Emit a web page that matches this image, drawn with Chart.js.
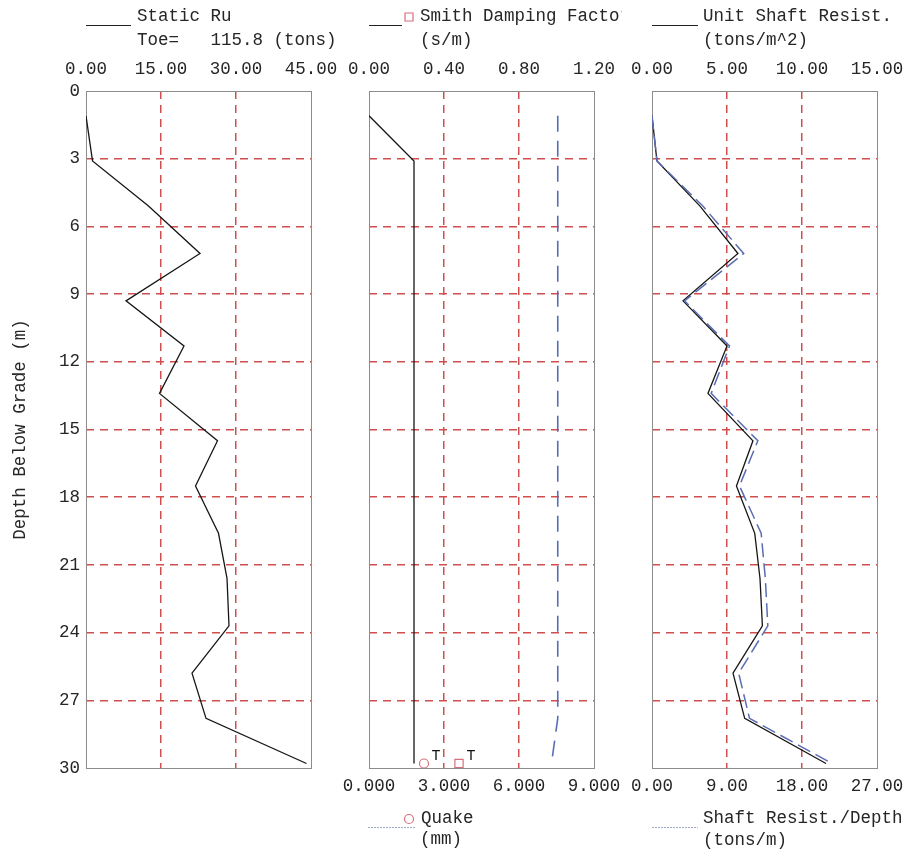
<!DOCTYPE html>
<html>
<head>
<meta charset="utf-8">
<script src="https://cdn.jsdelivr.net/npm/chart.js@4"></script>
<style>
  html, body { margin: 0; padding: 0; background: #ffffff; }
  #wrap { position: relative; width: 912px; height: 854px; }
  #wrap canvas { position: absolute; left: 0; top: 0; }
</style>
</head>
<body>
<div id="wrap">
  <canvas id="ruChart" width="912" height="854"></canvas>
  <canvas id="dampChart" width="912" height="854"></canvas>
  <canvas id="shaftChart" width="912" height="854"></canvas>
</div>
<script>
// ---- Pile profile data (depth below grade, m) ----
const depth = [1.1, 3.1, 5.1, 7.2, 9.3, 11.3, 13.4, 15.5, 17.5, 19.6, 21.6, 23.7, 25.8, 27.8, 29.8];

// Static resistance per segment (tons)
const staticRu = [0, 1.3, 12.5, 22.8, 8.0, 19.6, 14.7, 26.3, 21.9, 26.5, 28.2, 28.6, 21.2, 24.0, 44.1];

// Smith damping factor (s/m) and quake (mm) along the shaft
const smithDamping = [0, 0.24, 0.24, 0.24, 0.24, 0.24, 0.24, 0.24, 0.24, 0.24, 0.24, 0.24, 0.24, 0.24, 0.24];
const quake = [7.55, 7.55, 7.55, 7.55, 7.55, 7.55, 7.55, 7.55, 7.55, 7.55, 7.55, 7.55, 7.55, 7.55, 7.3];

// Unit shaft resistance (tons/m^2) and shaft resistance per depth (tons/m)
const unitShaftResist = [0, 0.33, 3.2, 5.73, 2.07, 5.0, 3.73, 6.73, 5.63, 6.85, 7.2, 7.36, 5.4, 6.18, 11.6];
const shaftResistPerDepth = [0, 0.6, 6.1, 11.0, 3.9, 9.3, 7.1, 12.7, 10.5, 13.1, 13.6, 13.9, 10.4, 11.7, 21.6];

// Toe values
const toeDepth = 29.8;
const toeRu = 115.8;
const smithToe = 0.48;
const quakeToe = 2.2;

// Axis tick values
const depthTicks = [0, 3, 6, 9, 12, 15, 18, 21, 24, 27, 30];
const ruTicks = [0, 15, 30, 45];
const smithTicks = [0, 0.4, 0.8, 1.2];
const quakeTicks = [0, 3, 6, 9];
const unitTicks = [0, 5, 10, 15];
const perDepthTicks = [0, 9, 18, 27];

// ---- Styling ----
const MONO = '"Liberation Mono", "Courier New", monospace';
const FONT = { family: MONO, size: 17.5 };
const TEXT = '#262626';
const GRID_RED = 'rgb(208, 78, 78)';
const GRID_DASH = [8, 6];
const FRAME = '#8c8c8c';
const BLUE = '#5a6db3';
const BLACK = '#161616';
const MARK = '#d7707c';

Chart.defaults.font.family = MONO;
Chart.defaults.animation = false;

const innerGrid = (c) =>
  (c.index === 0 || c.index === c.scale.ticks.length - 1) ? 'rgba(255,255,255,0)' : GRID_RED;

function zeroPad(s) { s.paddingLeft = 0; s.paddingRight = 0; s.paddingTop = 0; s.paddingBottom = 0; }

function xAxis(position, ticks, decimals, showGrid, height, pad) {
  return {
    type: 'linear', axis: 'x', position,
    min: ticks[0], max: ticks[ticks.length - 1],
    afterBuildTicks: (s) => { s.ticks = ticks.map(v => ({ value: v })); },
    afterFit: (s) => { s.height = height; zeroPad(s); },
    ticks: {
      callback: (v) => Number(v).toFixed(decimals),
      font: FONT, color: TEXT, padding: pad, maxRotation: 0, autoSkip: false
    },
    grid: { display: showGrid, drawTicks: false, color: innerGrid, lineWidth: 1.5 },
    border: { display: false, dash: GRID_DASH }
  };
}

function yAxis(showLabels, width, withTitle) {
  return {
    type: 'linear', axis: 'y', position: 'left', reverse: true,
    min: depthTicks[0], max: depthTicks[depthTicks.length - 1],
    afterBuildTicks: (s) => { s.ticks = depthTicks.map(v => ({ value: v })); },
    afterFit: (s) => { s.width = width; zeroPad(s); },
    ticks: { display: showLabels, font: FONT, color: TEXT, padding: 6, autoSkip: false },
    grid: { drawTicks: false, color: innerGrid, lineWidth: 1.5 },
    border: { display: false, dash: GRID_DASH },
    title: withTitle
      ? { display: true, text: 'Depth Below Grade (m)', font: FONT, color: TEXT, padding: { top: 10, bottom: 0 } }
      : { display: false }
  };
}

function profile(values) {
  return depth.map((d, i) => ({ x: values[i], y: d }));
}

// Plot frame around the chart area
const framePlugin = {
  id: 'frame',
  beforeDatasetsDraw(chart) {
    const a = chart.chartArea, ctx = chart.ctx;
    ctx.save();
    ctx.strokeStyle = FRAME;
    ctx.lineWidth = 1;
    ctx.strokeRect(Math.round(a.left) + 0.5, Math.round(a.top) + 0.5,
      Math.round(a.right - a.left), Math.round(a.bottom - a.top));
    ctx.restore();
  }
};

// Header / footer captions with their key lines and symbols
const captionPlugin = {
  id: 'caption',
  afterDraw(chart, args, opts) {
    const ctx = chart.ctx;
    ctx.save();
    (opts.lines || []).forEach(l => {
      ctx.beginPath();
      ctx.strokeStyle = l.color;
      ctx.lineWidth = 1;
      ctx.setLineDash(l.dash || []);
      ctx.moveTo(l.x1, l.y + 0.5);
      ctx.lineTo(l.x2, l.y + 0.5);
      ctx.stroke();
    });
    ctx.setLineDash([]);
    (opts.symbols || []).forEach(m => {
      ctx.strokeStyle = MARK;
      ctx.lineWidth = 1.2;
      ctx.beginPath();
      if (m.type === 'rect') ctx.rect(m.x - m.size / 2, m.y - m.size / 2, m.size, m.size);
      else ctx.arc(m.x, m.y, m.size / 2, 0, Math.PI * 2);
      ctx.stroke();
    });
    ctx.font = '17.5px ' + MONO;
    ctx.fillStyle = TEXT;
    ctx.textBaseline = 'middle';
    ctx.textAlign = 'left';
    (opts.texts || []).forEach(t => {
      ctx.save();
      if (t.clip) { ctx.beginPath(); ctx.rect(0, 0, t.clip, 854); ctx.clip(); }
      ctx.fillText(t.text, t.x, t.y);
      ctx.restore();
    });
    ctx.restore();
  }
};

// "T" tags beside the toe symbols, placed from the plotted points
const toeTagPlugin = {
  id: 'toeTag',
  afterDatasetsDraw(chart, args, opts) {
    if (!opts.datasets) return;
    const ctx = chart.ctx;
    ctx.save();
    ctx.font = '15px ' + MONO;
    ctx.fillStyle = '#111';
    ctx.textAlign = 'center';
    ctx.textBaseline = 'middle';
    opts.datasets.forEach(i => {
      const pt = chart.getDatasetMeta(i).data[0];
      if (pt) ctx.fillText('T', pt.x + 12, pt.y - 7);
    });
    ctx.restore();
  }
};

const basePlugins = [framePlugin, captionPlugin, toeTagPlugin];

function baseOptions(padding, scales, caption, toeTag) {
  return {
    responsive: false,
    devicePixelRatio: 1,
    animation: false,
    events: [],
    layout: { padding },
    scales,
    plugins: {
      legend: { display: false },
      tooltip: { enabled: false },
      caption,
      toeTag: toeTag || {}
    }
  };
}

// ---- Panel 1: static resistance ----
new Chart(document.getElementById('ruChart'), {
  type: 'scatter',
  data: {
    datasets: [{
      data: profile(staticRu), xAxisID: 'xTop', yAxisID: 'y',
      showLine: true, borderColor: BLACK, borderWidth: 1.3, pointRadius: 0
    }]
  },
  options: baseOptions(
    { left: 0, top: 0, right: 601, bottom: 86 },
    { xTop: xAxis('top', ruTicks, 2, true, 91, 11), y: yAxis(true, 86, true) },
    {
      lines: [{ x1: 86, x2: 131, y: 25, color: '#222' }],
      texts: [
        { text: 'Static Ru', x: 137, y: 16 },
        { text: 'Toe=   ' + toeRu.toFixed(1) + ' (tons)', x: 137, y: 40 }
      ]
    }
  ),
  plugins: basePlugins
});

// ---- Panel 2: Smith damping (top) and quake (bottom) ----
new Chart(document.getElementById('dampChart'), {
  type: 'scatter',
  data: {
    datasets: [
      {
        label: 'Smith Damping', data: profile(smithDamping), xAxisID: 'xTop', yAxisID: 'y',
        showLine: true, borderColor: BLACK, borderWidth: 1.3, pointRadius: 0
      },
      {
        label: 'Quake', data: profile(quake), xAxisID: 'xBot', yAxisID: 'y',
        showLine: true, borderColor: BLUE, borderWidth: 1.6, borderDash: [16, 9], pointRadius: 0
      },
      {
        label: 'Smith Toe', data: [{ x: smithToe, y: toeDepth }], xAxisID: 'xTop', yAxisID: 'y',
        pointStyle: 'rect', pointRadius: 5.8, borderColor: MARK, borderWidth: 1.2,
        backgroundColor: 'rgba(255,255,255,0)'
      },
      {
        label: 'Quake Toe', data: [{ x: quakeToe, y: toeDepth }], xAxisID: 'xBot', yAxisID: 'y',
        pointStyle: 'circle', pointRadius: 4.5, borderColor: MARK, borderWidth: 1.2,
        backgroundColor: 'rgba(255,255,255,0)'
      }
    ]
  },
  options: baseOptions(
    { left: 339, top: 0, right: 318, bottom: 46 },
    {
      xTop: xAxis('top', smithTicks, 2, true, 91, 11),
      xBot: xAxis('bottom', quakeTicks, 3, false, 40, 8),
      y: yAxis(false, 30, false)
    },
    {
      lines: [
        { x1: 369, x2: 402, y: 25, color: '#222' },
        { x1: 368, x2: 415, y: 827, color: '#9fa9c9', dash: [2, 1] }
      ],
      symbols: [
        { type: 'rect', x: 409, y: 17, size: 8 },
        { type: 'circle', x: 409, y: 819, size: 9 }
      ],
      texts: [
        { text: 'Smith Damping Factor', x: 420, y: 16, clip: 622 },
        { text: '(s/m)', x: 420, y: 40 },
        { text: 'Quake', x: 421, y: 818 },
        { text: '(mm)', x: 420, y: 839 }
      ]
    },
    { datasets: [3, 2] }
  ),
  plugins: basePlugins
});

// ---- Panel 3: unit shaft resistance (top) and shaft resistance per depth (bottom) ----
new Chart(document.getElementById('shaftChart'), {
  type: 'scatter',
  data: {
    datasets: [
      {
        label: 'Shaft Resist./Depth', data: profile(shaftResistPerDepth), xAxisID: 'xBot', yAxisID: 'y',
        showLine: true, borderColor: BLUE, borderWidth: 1.5, borderDash: [14, 6], pointRadius: 0
      },
      {
        label: 'Unit Shaft Resist.', data: profile(unitShaftResist), xAxisID: 'xTop', yAxisID: 'y',
        showLine: true, borderColor: BLACK, borderWidth: 1.3, pointRadius: 0
      }
    ]
  },
  options: baseOptions(
    { left: 622, top: 0, right: 35, bottom: 46 },
    {
      xTop: xAxis('top', unitTicks, 2, true, 91, 11),
      xBot: xAxis('bottom', perDepthTicks, 2, false, 40, 8),
      y: yAxis(false, 30, false)
    },
    {
      lines: [
        { x1: 652, x2: 698, y: 25, color: '#222' },
        { x1: 652, x2: 698, y: 827, color: '#9fa9c9', dash: [2, 1] }
      ],
      texts: [
        { text: 'Unit Shaft Resist.', x: 703, y: 16 },
        { text: '(tons/m^2)', x: 703, y: 40 },
        { text: 'Shaft Resist./Depth', x: 703, y: 818 },
        { text: '(tons/m)', x: 703, y: 840 }
      ]
    }
  ),
  plugins: basePlugins
});
</script>
</body>
</html>
